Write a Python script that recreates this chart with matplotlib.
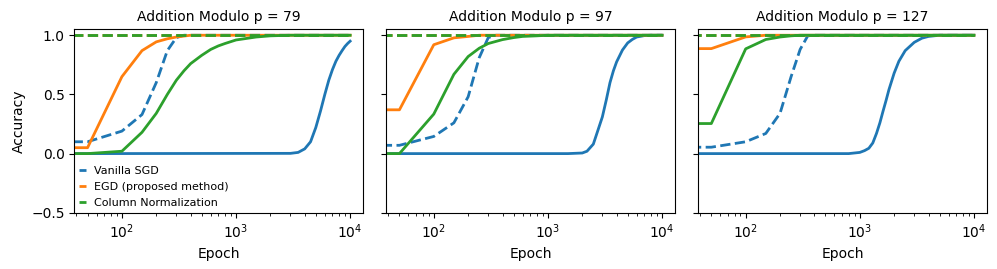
import matplotlib
matplotlib.use("Agg")
import matplotlib.pyplot as plt

titles = ["Addition Modulo p = 79", "Addition Modulo p = 97", "Addition Modulo p = 127"]
method_labels = ["Vanilla SGD", "EGD (proposed method)", "Column Normalization"]
colors = ["#1f77b4", "#ff7f0e", "#2ca02c"]

# ---------------- p = 79 ----------------
p79_sgd_train_ep = [0, 50, 100, 150, 200, 250, 300, 350, 10000]
p79_sgd_train = [0.10, 0.10, 0.19, 0.33, 0.60, 0.87, 0.98, 1.0, 1.0]
p79_sgd_test_ep = [0, 50, 3000, 3500, 4000, 4500, 5000, 5500, 6000, 6500, 7000, 7500, 8000, 8500, 9000, 9500, 10000]
p79_sgd_test = [0.0, 0.0, 0.002, 0.01, 0.04, 0.10, 0.22, 0.36, 0.50, 0.62, 0.71, 0.78, 0.83, 0.87, 0.905, 0.93, 0.95]
p79_egd_train_ep = [0, 50, 10000]
p79_egd_train = [1.0, 1.0, 1.0]
p79_egd_test_ep = [0, 50, 100, 150, 200, 250, 300, 400, 10000]
p79_egd_test = [0.05, 0.05, 0.65, 0.87, 0.944, 0.97, 0.985, 1.0, 1.0]
p79_cn_train_ep = [0, 50, 10000]
p79_cn_train = [1.0, 1.0, 1.0]
p79_cn_test_ep = [0, 50, 100, 150, 200, 250, 300, 350, 400, 500, 600, 700, 800, 1000, 1500, 2000, 3000, 10000]
p79_cn_test = [0.0, 0.0, 0.02, 0.18, 0.34, 0.50, 0.62, 0.70, 0.76, 0.83, 0.88, 0.91, 0.93, 0.96, 0.985, 0.995, 1.0, 1.0]

# ---------------- p = 97 ----------------
p97_sgd_train_ep = [0, 50, 100, 150, 200, 250, 300, 350, 10000]
p97_sgd_train = [0.07, 0.07, 0.145, 0.26, 0.48, 0.81, 0.98, 1.0, 1.0]
p97_sgd_test_ep = [0, 50, 1500, 2000, 2200, 2500, 2750, 3000, 3250, 3500, 3750, 4000, 4500, 5000, 5500, 6000, 7000, 8000, 10000]
p97_sgd_test = [0.0, 0.0, 0.0, 0.005, 0.02, 0.08, 0.20, 0.31, 0.455, 0.60, 0.70, 0.775, 0.875, 0.935, 0.965, 0.985, 0.997, 1.0, 1.0]
p97_egd_train_ep = [0, 50, 10000]
p97_egd_train = [1.0, 1.0, 1.0]
p97_egd_test_ep = [0, 50, 100, 150, 200, 250, 10000]
p97_egd_test = [0.37, 0.37, 0.92, 0.978, 0.99, 1.0, 1.0]
p97_cn_train_ep = [0, 50, 10000]
p97_cn_train = [1.0, 1.0, 1.0]
p97_cn_test_ep = [0, 50, 100, 150, 200, 250, 300, 400, 500, 600, 800, 1000, 10000]
p97_cn_test = [0.0, 0.0, 0.334, 0.67, 0.82, 0.89, 0.93, 0.963, 0.98, 0.99, 0.995, 1.0, 1.0]

# ---------------- p = 127 ----------------
p127_sgd_train_ep = [0, 50, 100, 150, 200, 250, 300, 350, 400, 10000]
p127_sgd_train = [0.054, 0.054, 0.10, 0.17, 0.34, 0.65, 0.88, 0.995, 1.0, 1.0]
p127_sgd_test_ep = [0, 50, 800, 1000, 1100, 1200, 1300, 1400, 1500, 1600, 1700, 1800, 2000, 2200, 2500, 3000, 3500, 4000, 5000, 10000]
p127_sgd_test = [0.0, 0.0, 0.0, 0.01, 0.025, 0.045, 0.09, 0.17, 0.26, 0.36, 0.45, 0.54, 0.68, 0.78, 0.87, 0.94, 0.975, 0.99, 1.0, 1.0]
p127_egd_train_ep = [0, 50, 10000]
p127_egd_train = [1.0, 1.0, 1.0]
p127_egd_test_ep = [0, 50, 100, 150, 10000]
p127_egd_test = [0.887, 0.887, 0.986, 1.0, 1.0]
p127_cn_train_ep = [0, 50, 10000]
p127_cn_train = [1.0, 1.0, 1.0]
p127_cn_test_ep = [0, 50, 100, 150, 200, 250, 300, 10000]
p127_cn_test = [0.254, 0.254, 0.885, 0.964, 0.985, 0.995, 1.0, 1.0]

panels = [
    [(p79_sgd_train_ep, p79_sgd_train, p79_sgd_test_ep, p79_sgd_test),
     (p79_egd_train_ep, p79_egd_train, p79_egd_test_ep, p79_egd_test),
     (p79_cn_train_ep, p79_cn_train, p79_cn_test_ep, p79_cn_test)],
    [(p97_sgd_train_ep, p97_sgd_train, p97_sgd_test_ep, p97_sgd_test),
     (p97_egd_train_ep, p97_egd_train, p97_egd_test_ep, p97_egd_test),
     (p97_cn_train_ep, p97_cn_train, p97_cn_test_ep, p97_cn_test)],
    [(p127_sgd_train_ep, p127_sgd_train, p127_sgd_test_ep, p127_sgd_test),
     (p127_egd_train_ep, p127_egd_train, p127_egd_test_ep, p127_egd_test),
     (p127_cn_train_ep, p127_cn_train, p127_cn_test_ep, p127_cn_test)],
]

fig, axes = plt.subplots(1, 3, figsize=(9.97, 2.69), dpi=100, sharey=True)
fig.subplots_adjust(left=0.0747, right=0.990, top=0.891, bottom=0.209, wspace=0.08)

for ax, title, series in zip(axes, titles, panels):
    for (tr_ep, tr, te_ep, te), c, lab in zip(series, colors, method_labels):
        ax.plot(tr_ep, tr, color=c, linestyle="--", linewidth=2, label=lab)
        ax.plot(te_ep, te, color=c, linestyle="-", linewidth=2)
    ax.set_xscale("log")
    ax.set_xlim(38.4, 13030)
    ax.set_ylim(-0.5, 1.05)
    ax.set_yticks([-0.5, 0.0, 0.5, 1.0])
    ax.set_title(title, fontsize=10)
    ax.set_xlabel("Epoch", fontsize=10)
    ax.tick_params(labelsize=10)

axes[0].set_ylabel("Accuracy", fontsize=10)
axes[0].legend(loc="lower left", frameon=False, fontsize=8, handlelength=0.6,
               borderaxespad=0.1, borderpad=0.3, labelspacing=0.55)

fig.savefig("out.png", dpi=100)
